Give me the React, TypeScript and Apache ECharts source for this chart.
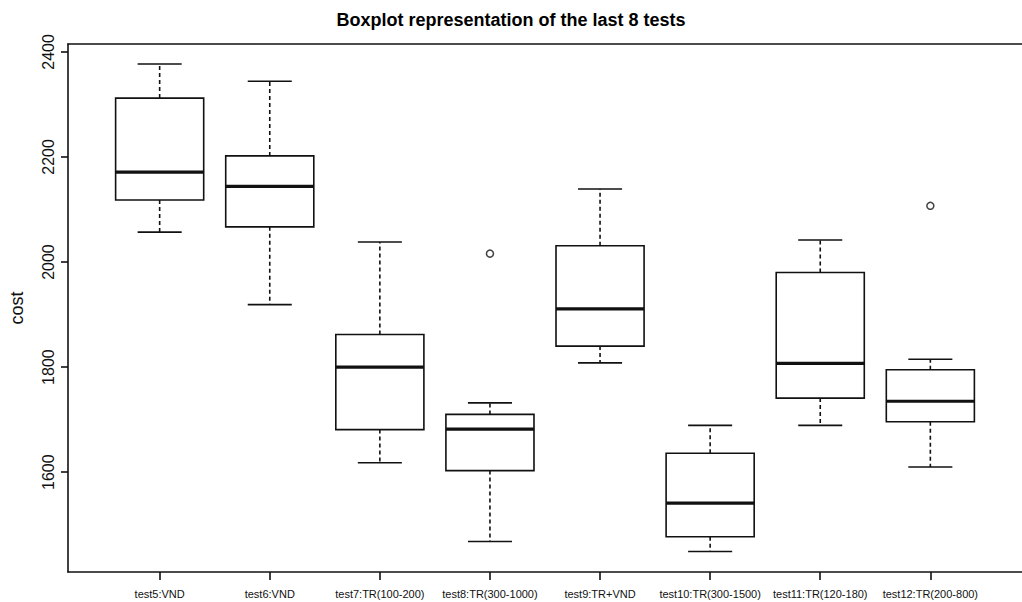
import React, { useEffect, useRef } from "react";
import * as echarts from "echarts";

const categories = [
  "test5:VND",
  "test6:VND",
  "test7:TR(100-200)",
  "test8:TR(300-1000)",
  "test9:TR+VND",
  "test10:TR(300-1500)",
  "test11:TR(120-180)",
  "test12:TR(200-800)",
];
const lowWhisker = [2057, 1919, 1618, 1468, 1808, 1449, 1689, 1610];
const q1 = [2118, 2067, 1681, 1603, 1840, 1477, 1741, 1696];
const median = [2171, 2144, 1800, 1682, 1911, 1541, 1807, 1735];
const q3 = [2312, 2202, 1862, 1710, 2031, 1636, 1980, 1795];
const highWhisker = [2377, 2344, 2038, 1732, 2139, 1689, 2042, 1815];
const outlierPosition = [4, 8];
const outlierValue = [2016, 2107];
const yTicks = [1600, 1800, 2000, 2200, 2400];
const xPositions = categories.map((_, i) => i + 1);

const INK = "#111";

export default function App() {
  const ref = useRef<HTMLDivElement>(null);

  useEffect(() => {
    if (!ref.current) return;
    const chart = echarts.init(ref.current, null, { renderer: "svg" });

    const boxData = categories.map((_, i) => [
      xPositions[i],
      lowWhisker[i],
      q1[i],
      median[i],
      q3[i],
      highWhisker[i],
    ]);
    const outlierData = outlierPosition.map((p, i) => [p, outlierValue[i]]);

    const renderItem = (params: any, api: any) => {
      const x = api.value(0);
      const lo = api.coord([x, api.value(1)]);
      const b1 = api.coord([x, api.value(2)]);
      const md = api.coord([x, api.value(3)]);
      const b3 = api.coord([x, api.value(4)]);
      const hi = api.coord([x, api.value(5)]);
      const halfW = api.size([0.8, 0])[0] / 2;
      const capHalf = halfW / 2;
      const cx = md[0];
      const solid = { stroke: INK, lineWidth: 1.6, fill: "none" };
      const dashed = { stroke: INK, lineWidth: 1.6, lineDash: [4, 3], fill: "none" };
      return {
        type: "group",
        children: [
          { type: "line", shape: { x1: cx, y1: b3[1], x2: cx, y2: hi[1] }, style: dashed },
          { type: "line", shape: { x1: cx, y1: b1[1], x2: cx, y2: lo[1] }, style: dashed },
          { type: "line", shape: { x1: cx - capHalf, y1: hi[1], x2: cx + capHalf, y2: hi[1] }, style: solid },
          { type: "line", shape: { x1: cx - capHalf, y1: lo[1], x2: cx + capHalf, y2: lo[1] }, style: solid },
          {
            type: "rect",
            shape: { x: cx - halfW, y: b3[1], width: halfW * 2, height: b1[1] - b3[1] },
            style: { fill: "#fff", stroke: INK, lineWidth: 1.6 },
          },
          { type: "line", shape: { x1: cx - halfW, y1: md[1], x2: cx + halfW, y2: md[1] }, style: { stroke: INK, lineWidth: 3.2 } },
        ],
      };
    };

    chart.setOption({
      animation: false,
      backgroundColor: "#fff",
      textStyle: { fontFamily: "Liberation Sans, Arial, sans-serif" },
      title: {
        text: "Boxplot representation of the last 8 tests",
        left: "center",
        top: 11,
        padding: [0, 0, 0, 82],
        textStyle: { fontSize: 18, fontWeight: "bold", color: "#000", fontFamily: "Liberation Sans, Arial, sans-serif" },
      },
      grid: { left: 68, right: -14, top: 44, bottom: 30 },
      xAxis: [
        {
          type: "value",
          min: 0.1675,
          max: 8.8325,
          position: "bottom",
          splitLine: { show: false },
          axisLine: { show: true, lineStyle: { color: INK, width: 1.6 } },
          axisTick: { show: true, length: 8, customValues: xPositions, lineStyle: { color: INK, width: 1.6 } },
          axisLabel: {
            customValues: xPositions,
            formatter: (v: number) => categories[Math.round(v) - 1] ?? "",
            fontSize: 11,
            color: "#111",
            margin: 16,
          },
        },
        {
          type: "value",
          min: 0.1675,
          max: 8.8325,
          position: "top",
          splitLine: { show: false },
          axisLine: { show: true, lineStyle: { color: INK, width: 1.6 } },
          axisTick: { show: false },
          axisLabel: { show: false },
        },
      ],
      yAxis: {
        type: "value",
        min: 1410,
        max: 2415,
        name: "cost",
        nameLocation: "middle",
        nameRotate: 90,
        nameGap: 42,
        nameTextStyle: { fontSize: 18, color: "#111" },
        splitLine: { show: false },
        axisLine: { show: true, lineStyle: { color: INK, width: 1.6 } },
        axisTick: { show: true, length: 7, customValues: yTicks, lineStyle: { color: INK, width: 1.6 } },
        axisLabel: {
          customValues: yTicks,
          formatter: (v: number) => String(v),
          rotate: 90,
          fontSize: 16,
          color: "#111",
          margin: 12,
        },
      },
      series: [
        {
          type: "custom",
          renderItem,
          data: boxData,
          encode: { x: 0, y: [1, 2, 3, 4, 5] },
          xAxisIndex: 0,
          clip: false,
        },
        {
          type: "scatter",
          data: outlierData,
          symbol: "circle",
          symbolSize: 7,
          itemStyle: { color: "#fff", borderColor: INK, borderWidth: 1.5 },
          xAxisIndex: 0,
        },
      ],
    });

    return () => chart.dispose();
  }, []);

  return (
    <div
      ref={ref}
      style={{ position: "absolute", left: 0, top: 0, width: 1022, height: 602 }}
    />
  );
}
